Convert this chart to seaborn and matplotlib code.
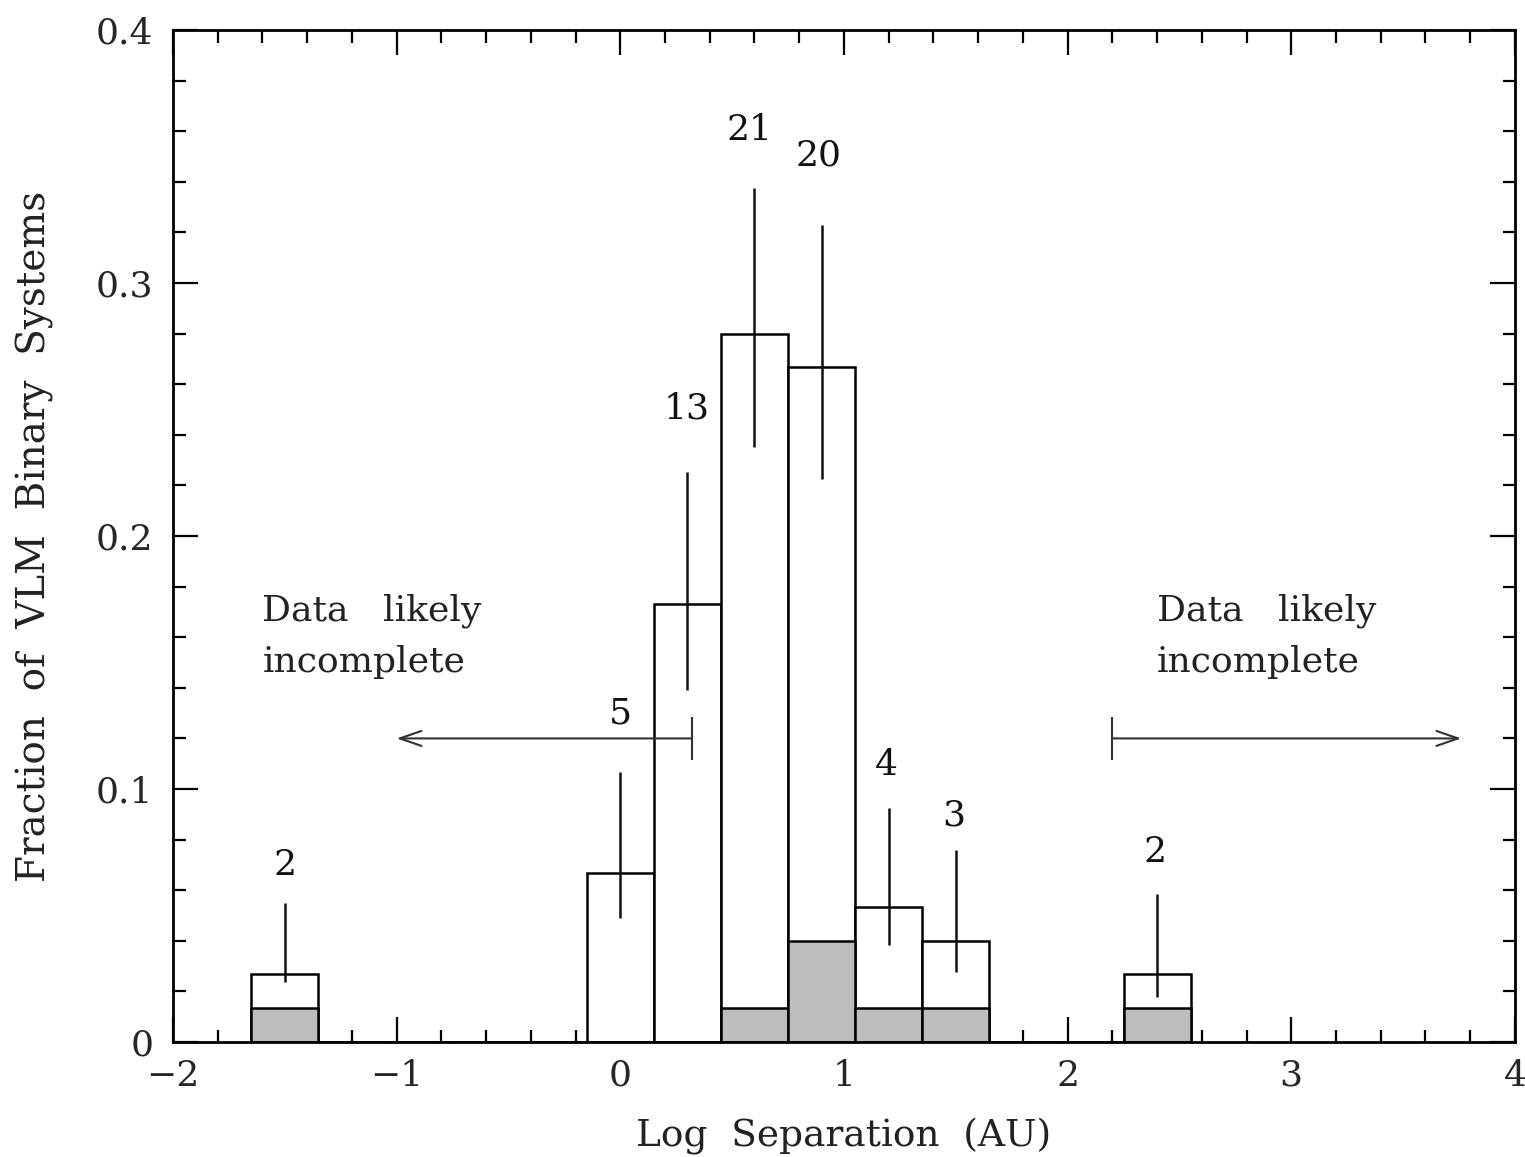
import numpy as np
import pandas as pd
import seaborn as sns
import matplotlib
matplotlib.use("Agg")
import matplotlib.pyplot as plt
from matplotlib.ticker import MultipleLocator, FixedLocator

# ---- data ----
bin_centers = [-1.5, 0.0, 0.3, 0.6, 0.9, 1.2, 1.5, 2.4]
counts = [2, 5, 13, 21, 20, 4, 3, 2]
total_fraction = [0.0267, 0.0667, 0.1733, 0.2800, 0.2667, 0.0533, 0.0400, 0.0267]
shaded_fraction = [0.0133, 0.0, 0.0, 0.0133, 0.0400, 0.0133, 0.0133, 0.0133]
err_low = [0.0237, 0.0490, 0.1390, 0.2350, 0.2225, 0.0383, 0.0277, 0.0178]
err_high = [0.0550, 0.1067, 0.2253, 0.3375, 0.3230, 0.0925, 0.0759, 0.0585]
label_y = [0.0700, 0.1300, 0.2506, 0.3605, 0.3506, 0.1095, 0.0897, 0.0751]
label_x = [-1.5, 0.0, 0.295, 0.58, 0.885, 1.19, 1.49, 2.39]

df = pd.DataFrame({"sep": bin_centers, "frac": total_fraction,
                   "shaded": shaded_fraction})

sns.set_theme(style="ticks")
plt.rcParams["font.family"] = ["DejaVu Serif"]
plt.rcParams["mathtext.fontset"] = "dejavuserif"

fig = plt.figure(figsize=(15.25, 11.57), dpi=100)
ax = fig.add_axes([0.1134, 0.0994, 0.9934 - 0.1134, 0.974 - 0.0994])

edges = [round(-1.65 + 0.3 * i, 3) for i in range(15)]
sns.histplot(data=df, x="sep", weights="frac", bins=edges, ax=ax,
             stat="count", element="bars", fill=True, color="white",
             edgecolor="black", linewidth=1.8, alpha=1.0)
sns.histplot(data=df[df["shaded"] > 0], x="sep", weights="shaded", bins=edges,
             ax=ax, stat="count", element="bars", fill=True, color="#bdbdbd",
             edgecolor="black", linewidth=1.8, alpha=1.0)

# error bars
ax.vlines(bin_centers, err_low, err_high, color="#111111", linewidth=1.8, zorder=5)

# count labels
for x, y, c in zip(label_x, label_y, counts):
    ax.text(x, y, str(c), ha="center", va="center", fontsize=26, color="#111111")

# arrows
arrow_y = 0.12
ax.annotate("", xy=(-1.0, arrow_y), xytext=(0.32, arrow_y),
            arrowprops=dict(arrowstyle="->,head_length=1.3,head_width=0.45",
                            color="#333333", lw=1.5, shrinkA=0, shrinkB=0))
ax.vlines([0.32], arrow_y - 0.0085, arrow_y + 0.0085, color="#333333", lw=1.5)
ax.annotate("", xy=(3.76, arrow_y), xytext=(2.2, arrow_y),
            arrowprops=dict(arrowstyle="->,head_length=1.3,head_width=0.45",
                            color="#333333", lw=1.5, shrinkA=0, shrinkB=0))
ax.vlines([2.2], arrow_y - 0.0085, arrow_y + 0.0085, color="#333333", lw=1.5)

for tx in (-1.6, 2.4):
    ax.text(tx, 0.1704, "Data   likely", ha="left", va="center",
            fontsize=26, color="#222222")
    ax.text(tx, 0.1502, "incomplete", ha="left", va="center",
            fontsize=26, color="#222222")

ax.set_xlim(-2, 4)
ax.set_ylim(0, 0.4)
ax.xaxis.set_major_locator(FixedLocator([-2, -1, 0, 1, 2, 3, 4]))
ax.xaxis.set_minor_locator(MultipleLocator(0.2))
ax.yaxis.set_major_locator(FixedLocator([0, 0.1, 0.2, 0.3, 0.4]))
ax.yaxis.set_minor_locator(MultipleLocator(0.02))
ax.set_yticklabels(["0", "0.1", "0.2", "0.3", "0.4"])
ax.set_xticklabels(["\u22122", "\u22121", "0", "1", "2", "3", "4"])

ax.tick_params(which="both", direction="in", top=True, right=True,
               color="black", width=1.6)
ax.tick_params(which="major", length=18, labelsize=26, pad=12)
ax.tick_params(which="minor", length=9)
ax.tick_params(axis="y", which="major", pad=14)
for s in ax.spines.values():
    s.set_linewidth(2.0)
    s.set_color("black")

ax.set_xlabel("Log  Separation  (AU)", fontsize=27, labelpad=18, color="#222222")
ax.set_ylabel("Fraction  of  VLM  Binary  Systems", fontsize=28, labelpad=30,
              color="#222222")

fig.savefig("out.png", dpi=100)
